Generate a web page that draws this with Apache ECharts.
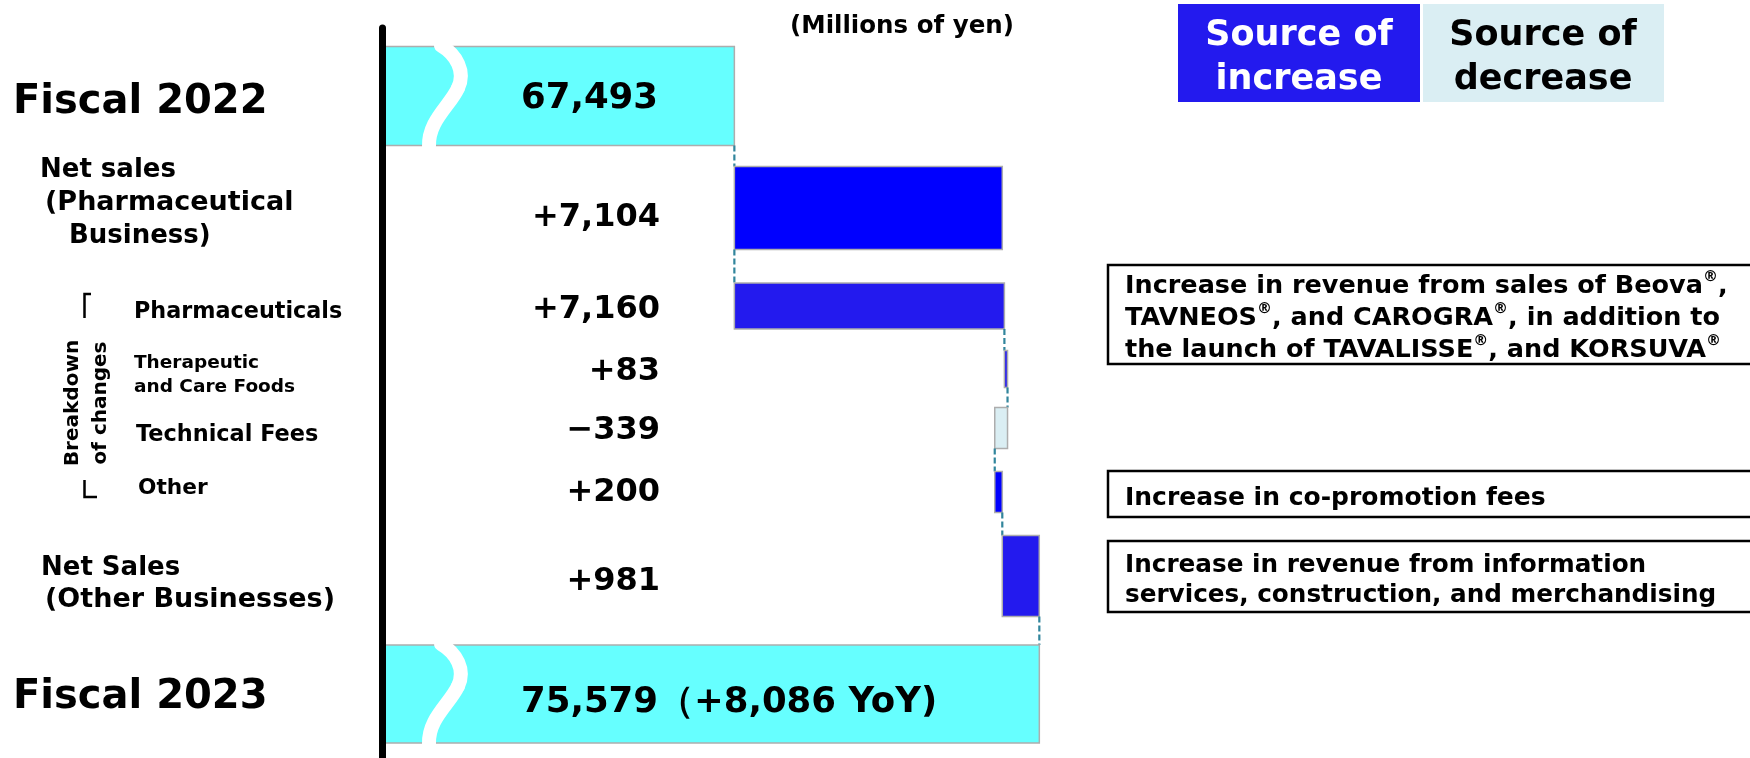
<!DOCTYPE html>
<html>
<head>
<meta charset="utf-8">
<script src="https://cdn.jsdelivr.net/npm/echarts@6/dist/echarts.min.js"></script>
<style>
html, body { margin: 0; padding: 0; background: #fff; }
#main { width: 1750px; height: 758px; }
</style>
</head>
<body>
<div id="main"></div>
<script>
// Millions of yen
var rows = ['Fiscal 2022', 'Net sales (Pharmaceutical Business)', 'Pharmaceuticals',
    'Therapeutic and Care Foods', 'Technical Fees', 'Other', 'Net Sales (Other Businesses)', 'Fiscal 2023'];
var kinds = ['total', 'delta', 'delta', 'delta', 'delta', 'delta', 'delta', 'total'];
var amounts = [67493, 7104, 7160, 83, -339, 200, 981, 75579];
var valueLabels = ['67,493', '+7,104', '+7,160', '+83', '\u2212339', '+200', '+981', '75,579\uff08+8,086 YoY)'];
// which row's end each change starts from (the breakdown restarts from Fiscal 2022)
var startFrom = [null, 0, 0, 2, 3, 4, 5, null];

// layout / style (not data)
var rowMid = [96, 208, 306, 369, 428, 492, 576, 694];
var rowH = [99, 83, 46, 37, 41, 41, 81, 98];
var labelDy = [3, 10, 4, 3, 3, 1, 6, 9];
var barColor = ['#66FFFF', '#0000FF', '#231AEE', '#231AEE', '#DAEEF3', '#0000FF', '#231AEE', '#66FFFF'];
var X_MIN = 58150, X_MAX = 93150;
var FONT = '"DejaVu Sans", Verdana, sans-serif';

var starts = [], ends = [];
amounts.forEach(function (v, i) {
    if (kinds[i] === 'total') {
        starts[i] = X_MIN;
        ends[i] = v;
    } else {
        starts[i] = ends[startFrom[i]];
        ends[i] = starts[i] + v;
    }
});

var seriesData = rows.map(function (r, i) {
    return [starts[i], ends[i], i];
});

function renderItem(params, api) {
    var i = api.value(2);
    var p0 = api.coord([api.value(0), rowMid[i]]);
    var p1 = api.coord([api.value(1), rowMid[i]]);
    var h = rowH[i];
    var top = p0[1] - h / 2;
    var x0 = Math.min(p0[0], p1[0]);
    var x1 = Math.max(p0[0], p1[0]);
    var children = [];

    if (i > 0) {
        var cx = kinds[i] === 'total' ? p1[0] : p0[0];
        var prevBottom = api.coord([X_MIN, rowMid[i - 1]])[1] + rowH[i - 1] / 2;
        children.push({
            type: 'line',
            shape: { x1: cx, y1: prevBottom, x2: cx, y2: top },
            style: { stroke: '#31859C', lineWidth: 2.2, lineDash: [6, 3] }
        });
    }

    children.push({
        type: 'rect',
        shape: { x: x0, y: top, width: Math.max(x1 - x0, 2), height: h },
        style: { fill: barColor[i], stroke: '#ADADAD', lineWidth: 1.5 }
    });

    var isTotal = kinds[i] === 'total';
    if (isTotal) {
        // wavy break mark on the shortened total bars
        var bs = { stroke: '#fff', lineWidth: 14, fill: null, lineCap: 'round' };
        var bx = x0 + 4;
        children.push({
            type: 'bezierCurve',
            shape: { x1: bx + 55, y1: top - 1, cpx1: bx + 70, cpy1: top + 0.08 * h,
                cpx2: bx + 80, cpy2: top + 0.25 * h, x2: bx + 72, y2: top + 0.42 * h },
            style: bs
        });
        children.push({
            type: 'bezierCurve',
            shape: { x1: bx + 72, y1: top + 0.42 * h, cpx1: bx + 64, cpy1: top + 0.6 * h,
                cpx2: bx + 42, cpy2: top + 0.75 * h, x2: bx + 43, y2: top + h + 1 },
            style: bs
        });
    }

    children.push({
        type: 'text',
        x: isTotal ? 521 : 660,
        y: p0[1] + labelDy[i],
        style: {
            text: valueLabels[i],
            fill: '#000',
            fontFamily: FONT,
            fontWeight: 'bold',
            fontSize: isTotal ? 35.5 : 32,
            align: isTotal ? 'left' : 'right',
            verticalAlign: 'middle'
        }
    });

    return { type: 'group', children: children };
}

function txt(x, y, text, size, extra) {
    var st = {
        text: text, fill: '#000', fontFamily: FONT, fontWeight: 'bold', fontSize: size,
        align: 'left', verticalAlign: 'middle'
    };
    for (var k in (extra || {})) st[k] = extra[k];
    return { type: 'text', x: x, y: y, style: st, z: 10 };
}

var supRich = { r: { fontSize: 15, lineHeight: 15, verticalAlign: 'top', fontFamily: FONT, fontWeight: 'bold', fill: '#000' } };

var chart = echarts.init(document.getElementById('main'));
chart.setOption({
    animation: false,
    grid: { left: 382, width: 1320, top: 28, bottom: 0 },
    xAxis: {
        type: 'value', min: X_MIN, max: X_MAX, show: false
    },
    yAxis: {
        type: 'value', inverse: true, min: 28, max: 758, z: 10,
        axisLine: { show: true, lineStyle: { color: '#000', width: 7 } },
        axisTick: { show: false }, axisLabel: { show: false }, splitLine: { show: false }
    },
    series: [{
        type: 'custom',
        renderItem: renderItem,
        data: seriesData,
        encode: { x: [0, 1] },
        clip: false
    }],
    graphic: [
        txt(902, 27, '(Millions of yen)', 24.5, { align: 'center' }),
        { type: 'rect', shape: { x: 1178, y: 4, width: 242, height: 98 }, style: { fill: '#231AEE' } },
        txt(1299, 58, 'Source of\nincrease', 35, { align: 'center', fill: '#fff', lineHeight: 44 }),
        { type: 'rect', shape: { x: 1423, y: 4, width: 241, height: 98 }, style: { fill: '#DAEEF3' } },
        txt(1543, 58, 'Source of\ndecrease', 35, { align: 'center', lineHeight: 44 }),

        { type: 'rect', shape: { x: 1108, y: 265, width: 660, height: 99 }, style: { fill: '#fff', stroke: '#000', lineWidth: 2.5 } },
        txt(1125, 318, 'Increase in revenue from sales of Beova{r|\u00ae},\nTAVNEOS{r|\u00ae}, and CAROGRA{r|\u00ae}, in addition to\nthe launch of TAVALISSE{r|\u00ae}, and KORSUVA{r|\u00ae}', 25.5, { lineHeight: 32, rich: supRich }),
        { type: 'rect', shape: { x: 1108, y: 471, width: 660, height: 46 }, style: { fill: '#fff', stroke: '#000', lineWidth: 2.5 } },
        txt(1125, 498, 'Increase in co-promotion fees', 25),
        { type: 'rect', shape: { x: 1108, y: 541, width: 660, height: 71 }, style: { fill: '#fff', stroke: '#000', lineWidth: 2.5 } },
        txt(1125, 581, 'Increase in revenue from information\nservices, construction, and merchandising', 24.7, { lineHeight: 30 }),

        txt(13, 103, 'Fiscal 2022', 40),
        txt(40, 170, 'Net sales', 26),
        txt(45, 203, '(Pharmaceutical', 27),
        txt(69, 236, 'Business)', 26),
        txt(134, 312, 'Pharmaceuticals', 22.3),
        txt(134, 363, 'Therapeutic', 18.5),
        txt(134, 387, 'and Care Foods', 18.5),
        txt(136, 435, 'Technical Fees', 22.4),
        txt(138, 488, 'Other', 21.7),
        txt(41, 568, 'Net Sales', 26),
        txt(45, 600, '(Other Businesses)', 27),
        txt(13, 698, 'Fiscal 2023', 40),
        { type: 'text', x: 73, y: 403, rotation: Math.PI / 2,
            style: { text: 'Breakdown', fill: '#000', fontFamily: FONT, fontWeight: 'bold', fontSize: 20, align: 'center', verticalAlign: 'middle' } },
        { type: 'text', x: 101, y: 403, rotation: Math.PI / 2,
            style: { text: 'of changes', fill: '#000', fontFamily: FONT, fontWeight: 'bold', fontSize: 20, align: 'center', verticalAlign: 'middle' } },
        { type: 'polyline', shape: { points: [[91, 294], [84.5, 294], [84.5, 318]] }, style: { stroke: '#000', lineWidth: 2.5, fill: null } },
        { type: 'polyline', shape: { points: [[84.5, 480], [84.5, 497], [97, 497]] }, style: { stroke: '#000', lineWidth: 2.5, fill: null } }
    ]
});
</script>
</body>
</html>
